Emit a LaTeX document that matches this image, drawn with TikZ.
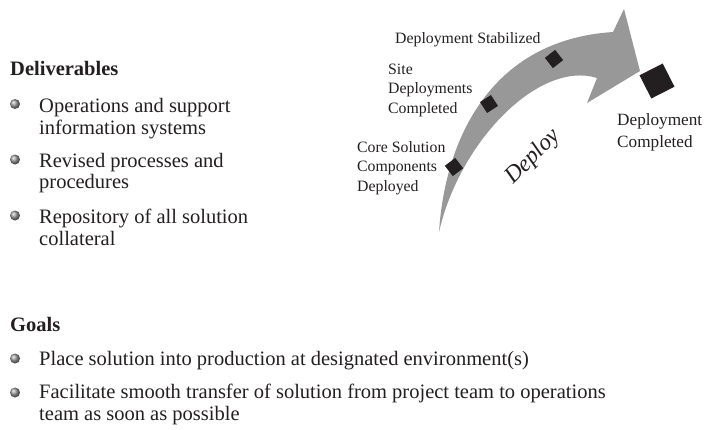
\documentclass[tikz,border=0pt]{standalone}
\usepackage{fontspec}
\setmainfont{Liberation Serif}
\definecolor{ink}{RGB}{35,31,32}
\definecolor{arrowgray}{RGB}{152,152,152}
\begin{document}
\begin{tikzpicture}[x=1pt,y=-1pt,
  lbl/.style={anchor=base west, inner sep=0, align=left, text=ink,
    font=\fontsize{15.8}{19.5}\selectfont},
  biglbl/.style={anchor=base west, inner sep=0, align=left, text=ink,
    font=\fontsize{17.2}{22}\selectfont},
  body/.style={anchor=base west, inner sep=0, align=left, text=ink,
    font=\fontsize{20.5}{21.5}\selectfont},
  head/.style={anchor=base west, inner sep=0, text=ink,
    font=\bfseries\fontsize{20.5}{22}\selectfont},
  bulletball/.style={circle, inner sep=0, minimum size=10, shading=ball, ball color=gray!80},
  diamondmark/.style={rectangle, fill=ink, inner sep=0, minimum size=13},
  bigmark/.style={rectangle, fill=ink, inner sep=0, minimum size=26, rotate=27}
]
\useasboundingbox (0,0) rectangle (710,429);

% curved arrow
\fill[arrowgray] (439,232) .. controls (445,140) and (490,40) .. (613,32)
  -- (624,9) -- (640,71) -- (587,103) -- (597,78)
  .. controls (540,60) and (460,140) .. (439,232) -- cycle;

% milestones
\node[diamondmark, rotate=37] (d1) at (454,167) {};
\node[diamondmark, rotate=33] (d2) at (489,104) {};
\node[diamondmark, rotate=38] (d3) at (554,59) {};
\node[bigmark] (dc) at (657,81) {};

% labels (multi-line nodes anchored at the baseline of their last line)
\node[lbl] (l3) at (395,43) {Deployment Stabilized};
\node[lbl] (l2) at (388,113) {Site\\Deployments\\Completed};
\node[lbl] (l1) at (357,191) {Core Solution\\Components\\Deployed};
\node[biglbl] (l4) at (617,147) {Deployment\\Completed};
\node[anchor=base, inner sep=0, rotate=45, text=ink,
  font=\itshape\fontsize{23.5}{23.5}\selectfont] (dep) at (537,161) {Deploy};

% Deliverables
\node[head] (hd) at (10,75) {Deliverables};
\node[bulletball] (b1) at (15,104) {};
\node[body] (t1) at (39,134) {Operations and support\\information systems};
\node[bulletball] (b2) at (15,159.5) {};
\node[body] (t2) at (39,188.5) {Revised processes and\\procedures};
\node[bulletball] (b3) at (15,215.5) {};
\node[body] (t3) at (39,245) {Repository of all solution\\collateral};

% Goals
\node[head] (hg) at (10,331) {Goals};
\node[bulletball] (g1) at (15,358.5) {};
\node[body] (u1) at (39,365) {Place solution into production at designated environment(s)};
\node[bulletball] (g2) at (15,392.5) {};
\node[body] (u2) at (39,420) {Facilitate smooth transfer of solution from project team to operations\\team as soon as possible};
\end{tikzpicture}
\end{document}
